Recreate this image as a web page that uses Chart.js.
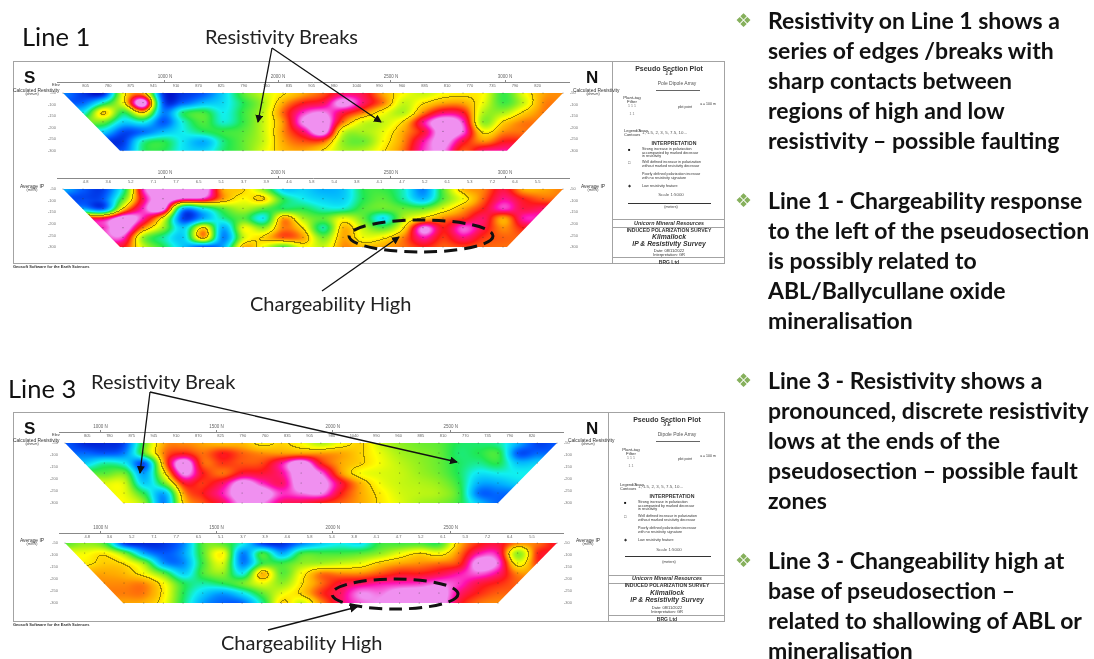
<!DOCTYPE html>
<html>
<head>
<meta charset="utf-8">
<title>Pseudo sections</title>
<script src="https://cdn.jsdelivr.net/npm/chart.js@4/dist/chart.umd.min.js"></script>
<style>
  html, body { margin: 0; padding: 0; background: #fff; width: 1094px; height: 659px; overflow: hidden; }
  body { position: relative; font-family: Lato, sans-serif; color: #111; }
  canvas { position: absolute; }
  .t { position: absolute; white-space: nowrap; line-height: 1; }
  .box { position: absolute; border: 1.5px solid #a3a3a3; box-sizing: border-box; }
  #map { position: absolute; left: 0; top: 0; width: 1094px; height: 659px; filter: blur(0.7px); }
  #notes { position: absolute; left: 0; top: 0; width: 1094px; height: 659px; pointer-events: none; }
</style>
</head>
<body>
<div id="map"></div>
<svg id="notes" width="1094" height="659" xmlns="http://www.w3.org/2000/svg">
  <defs>
    <marker id="head" markerWidth="8" markerHeight="8" refX="7" refY="4" orient="auto" markerUnits="userSpaceOnUse" viewBox="0 0 8 8">
      <path d="M0,0 L8,4 L0,8 Z" fill="#111"/>
    </marker>
  </defs>
  <g stroke="#111" stroke-width="1.3" fill="none">
    <path d="M272,48 L258,122" marker-end="url(#head)"/>
    <path d="M272,48 L381,122" marker-end="url(#head)"/>
    <path d="M322,291 L399,237" marker-end="url(#head)"/>
    <path d="M150,392 L140,473" marker-end="url(#head)"/>
    <path d="M150,392 L457,462" marker-end="url(#head)"/>
    <path d="M268,630 L357,607" marker-end="url(#head)"/>
  </g>
  <g stroke="#111" stroke-width="3" fill="none" stroke-dasharray="13 7">
    <ellipse cx="421" cy="236" rx="72" ry="16"/>
    <ellipse cx="395" cy="594" rx="63" ry="15"/>
  </g>
</svg>
<script>
// values, colour band scale 0 (dark blue) .. 10 (pink)
const line1Resistivity = [
  [1.5,0.5,0.3,6,7,0.5,0.5,1,2.5,4.5,5.5,6.3,7,7.6,8.5,8.3,7,6,5.5,6,6.2,6,4.2,5.8,7,7.2],
  [null,1.2,3.5,6,10,1,1.2,2.2,2.7,4,5.2,7,8,8.4,9.7,8.5,7.3,5.5,6.3,7,7,5.8,4.3,5.5,7.2,null],
  [null,3,6.5,4,6.5,1.5,3.8,4.3,3,4.2,5.4,7.5,9,9.4,8.3,7.3,6,5.3,7.3,8.5,8.1,5.3,5.2,6.5,7.3,null],
  [null,null,4.6,2.5,3,1,3.2,4.4,3.2,4.2,5.5,7.2,9.5,10,7.3,5.6,5.5,6.5,8.7,10,9,5,6.5,7.3,null,null],
  [null,null,2.5,0.8,1.3,2.2,3,3.8,4.2,4.5,5.5,7.2,8.5,9.8,5.6,5.2,5.8,7,8.2,9.9,9.2,6.2,7.2,7.4,null,null],
  [null,null,null,0.6,3.5,4,2.8,2,3.7,4.6,5.5,7,7.6,7.5,5,4.7,6,7.2,8.8,9.7,8.2,7.2,8,null,null,null],
  [null,null,null,1,3.8,4,2.8,2.5,3.8,4.6,5.7,6.8,7,6.3,5.2,5.3,6.3,7.4,9,9.4,7.6,8.6,8.8,null,null,null]
];
const line1Chargeability = [
  [2,1,0.7,3.5,9,10,9.8,10,7,6.5,5,2.5,2.5,2,2.3,4,4.2,3.3,1.5,4.5,6.8,7.3,8.3,7,7,7.3],
  [null,0.8,1,4.5,8.5,10,9,8.8,7,6,6.5,4,3,2.5,2.5,4,4.5,3.5,2.2,4.5,6,7.5,8.7,8,7.5,null],
  [null,2,1.2,6.5,9,9.6,2,3,4.5,5.3,4.5,4,4,3.3,3.3,4.4,4.6,4.6,4.6,5.8,7,8,9,8.3,8.5,null],
  [null,null,8.3,10,8.8,6,0.7,2,3.5,4.5,3,7,5.2,4.5,5.8,4.6,2.8,5.3,6.5,7.3,7.8,8.5,7,8.8,null,null],
  [null,null,9,10,7.2,5,2.5,6.5,2,5.8,5,7.3,6.3,3.5,6.8,5.4,4.5,6.3,9.5,8,9.2,8.3,7.2,8,null,null],
  [null,null,null,9,5,3.5,2.5,6.8,1.5,5.5,6.5,7.5,7,4.8,7,5.9,6.2,7.3,8.8,7.8,8.6,7.8,7.5,null,null,null],
  [null,null,null,8,5.5,4,2.3,0.7,2,6.8,5.8,4.3,6,5.5,7.2,6.8,7,7.4,7.9,7.5,7.7,7.5,7.4,null,null,null]
];
const line3Resistivity = [
  [1,0.3,0.3,0.8,4.5,7,7.2,7,6.8,6.8,6.2,6.5,6,5.3,6,6.5,5.5,5,4.7,4.5,3.9,3.8,3.5,2,0.7,1],
  [null,1.2,1,1.5,4.5,7.3,8,7.4,8,7.5,7.2,7.1,7.1,7.1,7,6.5,5.8,5.2,4.9,4.6,3.8,4,4.2,1,1.2,null],
  [null,2.5,3.5,3,1,7,10,7.5,7.8,7.6,7.7,8.8,10,8,7,6.5,5.9,5.4,5,4.6,3.9,3.6,4,2.3,2.5,null],
  [null,null,4.5,4.7,1.8,6,9.5,8,7.4,8.2,8.2,8.7,10,9.3,7.2,6,5.7,5.5,5.1,4.7,3.9,2.8,3,3,null,null],
  [null,null,5.7,5.6,2.5,4.5,8,7.8,8.5,9.8,9,8.5,10,9.8,8.3,6.9,5.9,5.5,5.3,5,4.1,2,2,2.5,null,null],
  [null,null,null,5.8,4,2,7,8,8.9,10,9.9,9,9.3,9.4,8,7,6.2,5.6,5.4,5.2,4.3,1.3,1.2,null,null,null],
  [null,null,null,6,5,1.5,6.5,7.6,8.4,9.6,9.4,8.5,8.3,7.9,7.5,7,6.3,5.7,5.2,4.9,4.2,2.3,1.1,null,null,null]
];
const line3Chargeability = [
  [4.5,5,4.3,0.7,0.3,0.5,1.5,4.5,4.5,3,0.7,0.4,1.5,2.5,3,2.8,4.2,4.3,4.4,4.2,6.8,7.9,8.2,7.2,7.4,8.2],
  [null,5.9,6.2,4.8,2,1,1.8,4.5,6,1.5,4.2,2,4.2,4.3,4.3,4.5,5,5.8,6.4,6,7.3,8.8,8.7,5,7.9,null],
  [null,6.2,6.6,6.3,5,1.8,1.6,4.3,5.6,1.5,4.2,4.2,5,5.2,5.5,5.8,6.6,7,7.2,7.4,7.8,9.8,9.2,6,7.8,null],
  [null,null,7,6.8,6,4.5,2.5,4.4,5,3,6.8,4.5,6,7.3,7.2,7.2,7.6,8,8,8.3,8.8,9.2,8.6,7.2,null,null],
  [null,null,7.2,7.2,7.2,6,4,3.5,4,4.7,5.8,5,6.3,7.4,8.2,8.5,8.8,8.9,9,9.3,9,8.3,7.9,7.5,null,null],
  [null,null,null,7.3,7.3,6.2,4,2.5,1.8,2.8,4.5,5.8,6.5,7.8,8.5,9.4,9.3,9.8,9.9,9.9,8.6,7.9,7.5,null,null,null],
  [null,null,null,7,6.9,6,3.8,1.8,1.1,1.2,3.5,6.5,5.5,7.2,8.5,9.2,9.5,10,10,9.9,8.2,7.4,7.2,null,null,null]
];

const depthLabels = ['-50', '-100', '-150', '-200', '-250', '-300'];
const depthRows = [0, 1.2, 2.4, 3.6, 4.8, 6];
const line1Stations = ['1000 N', '2000 N', '2500 N', '3000 N'];
const line1StationCols = [5.1, 10.75, 16.4, 22.1];
const line3Stations = ['1000 N', '1500 N', '2000 N', '2500 N'];
const line3StationCols = [1.8, 7.7, 13.6, 19.6];
const resistivityReadings = ['805','780','875','945','910','870','825','790','760','835','905','980','1040','990','960','885','810','770','735','790','820'];
const chargeReadings = ['4.8','3.6','5.2','7.1','7.7','6.5','5.1','3.7','3.9','4.6','5.8','5.4','3.8','4.1','4.7','5.2','6.1','5.3','7.2','6.4','5.5'];

// band colours for the fill
const bandStops = [
  [0, 16, 200], [0, 88, 255], [0, 176, 255], [16, 240, 240], [32, 232, 80], [144, 240, 32],
  [255, 255, 0], [255, 168, 0], [255, 24, 24], [255, 16, 176], [240, 144, 240]
];
const contourLevels = [6.4];

function bandColor(v) {
  let t = Math.max(0, Math.min(10, v));
  // pink band is wide in the picture
  if (t > 8.6) t = Math.min(10, 8.6 + (t - 8.6) * 1.7);
  const i = Math.min(9, Math.floor(t));
  const f = t - i;
  const a = bandStops[i], b = bandStops[i + 1];
  return [a[0] + (b[0] - a[0]) * f, a[1] + (b[1] - a[1]) * f, a[2] + (b[2] - a[2]) * f];
}

// cells outside the trapezoid take the nearest value of their row
function fillRow(row) {
  const out = row.slice();
  const first = out.findIndex(v => v !== null);
  let last = out.length - 1;
  while (out[last] === null) last--;
  for (let i = 0; i < first; i++) out[i] = out[first];
  for (let i = last + 1; i < out.length; i++) out[i] = out[last];
  return out;
}

function cubic(a, b, c, d, f) {
  return b + 0.5 * f * (c - a + f * (2 * a - 5 * b + 4 * c - d + f * (3 * (b - c) + d - a)));
}

function sampleGrid(g, col, row) {
  const rows = g.length, cols = g[0].length;
  const r0 = Math.max(0, Math.min(rows - 1, Math.floor(row)));
  const c0 = Math.max(0, Math.min(cols - 1, Math.floor(col)));
  const fr = Math.max(0, Math.min(1, row - r0));
  const fc = Math.max(0, Math.min(1, col - c0));
  const vals = [];
  for (let k = -1; k <= 2; k++) {
    const rr = g[Math.max(0, Math.min(rows - 1, r0 + k))];
    vals.push(cubic(rr[Math.max(0, c0 - 1)], rr[c0], rr[Math.min(cols - 1, c0 + 1)], rr[Math.min(cols - 1, c0 + 2)], fc));
  }
  return cubic(vals[0], vals[1], vals[2], vals[3], fr);
}

// paints the colour field under the station points, through the chart scales
const fieldPlugin = {
  id: 'field',
  beforeDatasetsDraw(chart, args, opts) {
    const xs = chart.scales.x, ys = chart.scales.y, ctx = chart.ctx;
    const grid = opts.grid.map(fillRow);
    const left = Math.floor(xs.getPixelForValue(0)), right = Math.ceil(xs.getPixelForValue(25));
    const top = Math.floor(ys.getPixelForValue(0)), bottom = Math.ceil(ys.getPixelForValue(6));
    const w = right - left, h = bottom - top;
    const vals = new Float32Array(w * h);
    for (let py = 0; py < h; py++) {
      const row = ys.getValueForPixel(top + py);
      for (let px = 0; px < w; px++) {
        vals[py * w + px] = sampleGrid(grid, xs.getValueForPixel(left + px), row);
      }
    }
    const off = document.createElement('canvas');
    off.width = w; off.height = h;
    const octx = off.getContext('2d');
    const img = octx.createImageData(w, h);
    for (let i = 0; i < vals.length; i++) {
      const c = bandColor(vals[i]);
      let dark = 1;
      for (const lv of contourLevels) {
        const nx = (i + 1) % w ? vals[i + 1] : vals[i];
        const ny = i + w < vals.length ? vals[i + w] : vals[i];
        if ((vals[i] - lv) * (nx - lv) < 0 || (vals[i] - lv) * (ny - lv) < 0) dark = 0.6;
      }
      img.data[i * 4] = c[0] * dark;
      img.data[i * 4 + 1] = c[1] * dark;
      img.data[i * 4 + 2] = c[2] * dark;
      img.data[i * 4 + 3] = 255;
    }
    octx.putImageData(img, 0, 0);
    ctx.save();
    ctx.beginPath();
    ctx.moveTo(xs.getPixelForValue(0), ys.getPixelForValue(0));
    ctx.lineTo(xs.getPixelForValue(25), ys.getPixelForValue(0));
    ctx.lineTo(xs.getPixelForValue(opts.rightFoot), ys.getPixelForValue(6));
    ctx.lineTo(xs.getPixelForValue(opts.leftFoot), ys.getPixelForValue(6));
    ctx.closePath();
    ctx.clip();
    ctx.drawImage(off, left, top);
    ctx.restore();
    // reading row under the station axis
    ctx.save();
    ctx.fillStyle = '#666';
    ctx.font = '4px "Liberation Sans"';
    ctx.textAlign = 'center';
    opts.readings.forEach((r, i) => {
      ctx.fillText(r, xs.getPixelForValue(1.13 + i * 1.13), chart.chartArea.top + 5);
    });
    ctx.restore();
  }
};

function addSection(cfg) {
  const areaLeft = Math.floor(cfg.x0 - 0.3 * cfg.sx);
  const areaRight = Math.ceil(cfg.x0 + 25.3 * cfg.sx);
  const sy = (cfg.bottom - cfg.top) / 6;
  const side = 18, head = 14;
  const canvas = document.createElement('canvas');
  const canvasLeft = areaLeft - side, canvasTop = cfg.axisY - head;
  canvas.style.left = canvasLeft + 'px';
  canvas.style.top = canvasTop + 'px';
  canvas.width = areaRight - areaLeft + side * 2;
  canvas.height = Math.ceil(cfg.bottom + 8 - canvasTop);
  document.getElementById('map').appendChild(canvas);

  const points = [];
  cfg.grid.forEach((row, r) => row.forEach((v, c) => { if (v !== null) points.push({ x: c, y: r }); }));
  const depthAxis = pos => ({
    position: pos, reverse: true, min: -1, max: 7,
    grid: { display: false, drawTicks: false }, border: { display: false },
    afterFit: s => { s.width = side; },
    afterBuildTicks: s => { s.ticks = depthRows.map(value => ({ value })); },
    ticks: {
      autoSkip: false, maxRotation: 0, padding: 1, color: '#777', font: { size: 4, family: 'Liberation Sans' },
      callback: (v, i) => depthLabels[i]
    }
  });

  const chart = new Chart(canvas, {
    type: 'scatter',
    data: { datasets: [{ data: points, pointRadius: 0.6, pointBackgroundColor: 'rgba(50,50,50,0.55)', pointBorderWidth: 0 }] },
    plugins: [fieldPlugin],
    options: {
      responsive: false, animation: false, devicePixelRatio: 1,
      layout: { padding: 0 },
      plugins: {
        legend: { display: false }, tooltip: { enabled: false },
        field: { grid: cfg.grid, leftFoot: cfg.leftFoot, rightFoot: cfg.rightFoot, readings: cfg.readings }
      },
      scales: {
        x: {
          type: 'linear', position: 'top', min: -0.3, max: 25.3,
          grid: { drawOnChartArea: false, tickLength: 2, color: '#888' },
          border: { color: '#888' },
          afterFit: s => { s.height = head; },
          afterBuildTicks: s => { s.ticks = cfg.stationCols.map(value => ({ value })); },
          ticks: {
            autoSkip: false, maxRotation: 0, padding: 1, color: '#666', font: { size: 4.5, family: 'Liberation Sans' },
            callback: (v, i) => cfg.stations[i]
          }
        },
        y: depthAxis('left'),
        yr: depthAxis('right')
      }
    }
  });

  // fit the scale ranges to the area the layout really gave, so rows land on the picture
  const a = chart.chartArea;
  const yMin = (canvasTop + a.top - cfg.top) / sy;
  const yMax = (canvasTop + a.bottom - cfg.top) / sy;
  chart.options.scales.y.min = yMin; chart.options.scales.y.max = yMax;
  chart.options.scales.yr.min = yMin; chart.options.scales.yr.max = yMax;
  chart.options.scales.x.min = (canvasLeft + a.left - cfg.x0) / cfg.sx;
  chart.options.scales.x.max = (canvasLeft + a.right - cfg.x0) / cfg.sx;
  chart.update();
}

addSection({ grid: line1Resistivity, x0: 63, sx: 20, axisY: 82, top: 93, bottom: 150.7, leftFoot: 2.85, rightFoot: 22.2, stations: line1Stations, stationCols: line1StationCols, readings: resistivityReadings });
addSection({ grid: line1Chargeability, x0: 63, sx: 20, axisY: 178, top: 189, bottom: 247, leftFoot: 2.85, rightFoot: 22.2, stations: line1Stations, stationCols: line1StationCols, readings: chargeReadings });
addSection({ grid: line3Resistivity, x0: 65, sx: 19.68, axisY: 432, top: 443, bottom: 503, leftFoot: 2.95, rightFoot: 22, stations: line3Stations, stationCols: line3StationCols, readings: resistivityReadings });
addSection({ grid: line3Chargeability, x0: 65, sx: 19.68, axisY: 533, top: 543, bottom: 603, leftFoot: 2.95, rightFoot: 22, stations: line3Stations, stationCols: line3StationCols, readings: chargeReadings });

// page furniture
const map = document.getElementById('map');
function text(parent, str, x, y, size, o) {
  o = o || {};
  const d = document.createElement('div');
  d.className = 't';
  d.textContent = str;
  d.style.fontSize = size + 'px';
  d.style.top = (y - size / 2) + 'px';
  d.style.fontFamily = o.font || '"Liberation Sans"';
  d.style.color = o.color || '#333';
  if (o.bold) d.style.fontWeight = 'bold';
  if (o.italic) d.style.fontStyle = 'italic';
  if (o.center) { d.style.left = x + 'px'; d.style.transform = 'translateX(-50%)'; } else d.style.left = x + 'px';
  parent.appendChild(d);
}
function rule(parent, x1, y1, x2, y2, color, weight) {
  const d = document.createElement('div');
  d.style.cssText = 'position:absolute;background:' + (color || '#a3a3a3');
  d.style.left = x1 + 'px'; d.style.top = y1 + 'px';
  d.style.width = Math.max(x2 - x1, weight || 1.2) + 'px';
  d.style.height = Math.max(y2 - y1, weight || 1.2) + 'px';
  parent.appendChild(d);
}

function frame(p) {
  const b = document.createElement('div');
  b.className = 'box';
  b.style.left = '13px'; b.style.top = p.top + 'px';
  b.style.width = (725 - 13) + 'px'; b.style.height = (p.bottom - p.top) + 'px';
  map.appendChild(b);
  rule(map, p.divider, p.top, p.divider, p.bottom);
  p.rules.forEach(y => rule(map, p.divider, y, 725, y));

  text(map, 'S', 24, p.top + 16, 17, { bold: true, color: '#111' });
  text(map, 'N', p.nx, p.top + 16, 17, { bold: true, color: '#111' });
  text(map, 'Geosoft Software for the Earth Sciences', 13, p.bottom + 2.5, 4, { bold: true });
  text(map, 'Elev', p.elevX, p.resY - 6, 4, {});
  text(map, 'Calculated Resistivity', 13, p.resY, 4.9, {});
  text(map, '(ohm-m)', 32, p.resY + 4, 3.5, { center: true });
  text(map, 'Calculated Resistivity', p.rightX, p.resY, 4.9, {});
  text(map, '(ohm-m)', p.rightX + 20, p.resY + 4, 3.5, { center: true });
  text(map, 'Average IP', 32, p.ipY, 4.9, { center: true });
  text(map, '(mV/V)', 32, p.ipY + 4, 3.5, { center: true });
  text(map, 'Average IP', p.rightX + 20, p.ipY, 4.9, { center: true });
  text(map, '(mV/V)', p.rightX + 20, p.ipY + 4, 3.5, { center: true });

  const y = p.ys;
  const cx = p.cx;
  text(map, 'Pseudo Section Plot', cx, y[0], 7, { bold: true, center: true });
  text(map, p.plot, cx, y[1], 4.6, { bold: true, italic: true, center: true });
  text(map, p.array, 677, y[2], 5, { center: true, color: '#555' });
  rule(map, 656, y[2] + 7, 700, y[2] + 7.6, '#666', 0.6);
  text(map, 'Plant-tag', p.tagX, y[3], 4.4, { center: true });
  text(map, 'Filter', p.tagX, y[3] + 4, 4.4, { center: true });
  text(map, '1 1 1', p.tagX, y[3] + 9, 3.5, { center: true, color: '#777' });
  text(map, '1  1', p.tagX, y[3] + 17, 3.5, { center: true, color: '#777' });
  text(map, 'plot point', 685, y[3] + 10, 3.5, { center: true });
  text(map, 'a = 100 m', 708, y[3] + 7, 3.5, { center: true });
  text(map, 'Legend/Array', p.legendX, y[4], 4, {});
  text(map, 'Contours', p.legendX, y[4] + 4, 4, {});
  text(map, '1, 1.5, 2, 3, 5, 7.5, 10...', p.legendX + 18, y[4] + 2, 4.4, { color: '#555' });
  text(map, 'INTERPRETATION', cx + 5, y[5], 5.2, { bold: true, center: true });
  const tx = p.itemX;
  text(map, '\u25A0', tx - 14, y[6], 4, { color: '#111' });
  text(map, 'Strong increase in polarization', tx, y[6], 3.7, {});
  text(map, 'accompanied by marked decrease', tx, y[6] + 3.4, 3.7, {});
  text(map, 'in resistivity', tx, y[6] + 6.8, 3.7, {});
  text(map, '\u25A1', tx - 14, y[7], 4, { color: '#333' });
  text(map, 'Well defined increase in polarization', tx, y[7], 3.7, {});
  text(map, 'without marked resistivity decrease', tx, y[7] + 3.4, 3.7, {});
  text(map, 'Poorly defined polarization increase', tx, y[8], 3.7, {});
  text(map, 'with no resistivity signature', tx, y[8] + 3.4, 3.7, {});
  text(map, '\u25C6', tx - 14, y[9], 3.5, { color: '#333' });
  text(map, 'Low resistivity feature', tx, y[9], 3.7, {});
  text(map, 'Scale 1:5000', cx + 2, y[10], 4.4, { center: true, color: '#555' });
  rule(map, p.barLeft, y[11], 711, y[11] + 0.8, '#333', 0.8);
  text(map, '(meters)', cx + 2, y[12], 3.6, { center: true });
  text(map, 'Unicorn Mineral Resources', cx, y[13], 5.4, { bold: true, italic: true, center: true });
  text(map, 'INDUCED POLARIZATION SURVEY', cx, y[14], 5.1, { bold: true, center: true });
  text(map, 'Kilmallock', cx, y[15], 6.8, { bold: true, italic: true, center: true });
  text(map, 'IP & Resistivity Survey', cx, y[16], 6.8, { bold: true, italic: true, center: true });
  text(map, 'Date: 08/11/2022', cx, y[17], 4, { center: true });
  text(map, 'Interpretation: GR', cx, y[17] + 3.6, 4, { center: true });
  text(map, 'BRG Ltd', cx, y[18], 5, { bold: true, center: true });
}

frame({
  top: 61, bottom: 264, divider: 612, rules: [219, 227, 257], nx: 586, plot: '1 E', array: 'Pole Dipole Array',
  resY: 91, ipY: 187, rightX: 573, elevX: 52, cx: 669, tagX: 632, legendX: 624, itemX: 642, barLeft: 628,
  ys: [68, 74, 83, 98, 131, 144, 150, 163, 175, 187, 195, 203, 208, 224, 231, 237, 244, 251, 262]
});
frame({
  top: 412, bottom: 622, divider: 608, rules: [575, 583, 615], nx: 586, plot: '3 E', array: 'Dipole Pole Array',
  resY: 441, ipY: 541, rightX: 568, elevX: 52, cx: 667, tagX: 631, legendX: 620, itemX: 638, barLeft: 625,
  ys: [419, 425, 434, 450, 485, 497, 503, 517, 529, 541, 550, 556, 563, 579, 586, 593, 600, 608, 619]
});

// slide text
const calloutFont = 'Lato';
text(document.body, 'Line 1', 22, 37, 25.5, { font: calloutFont, color: '#111' });
text(document.body, 'Resistivity Breaks', 205, 36, 20, { font: calloutFont, color: '#222' });
text(document.body, 'Chargeability High', 250, 303, 20, { font: calloutFont, color: '#222' });
text(document.body, 'Line 3', 8, 389, 25.5, { font: calloutFont, color: '#111' });
text(document.body, 'Resistivity Break', 91, 381, 20, { font: calloutFont, color: '#222' });
text(document.body, 'Chargeability High', 221, 642, 20, { font: calloutFont, color: '#222' });

const bullets = [
  { y: 20, lines: ['Resistivity on Line 1 shows a', 'series of edges /breaks with', 'sharp contacts between', 'regions of high and low', 'resistivity \u2013 possible faulting'] },
  { y: 200, lines: ['Line 1 - Chargeability response', 'to the left of the pseudosection', 'is possibly related to', 'ABL/Ballycullane oxide', 'mineralisation'] },
  { y: 380, lines: ['Line 3 - Resistivity shows a', 'pronounced, discrete resistivity', 'lows at the ends of the', 'pseudosection \u2013 possible fault', 'zones'] },
  { y: 560, lines: ['Line 3 - Changeability high at', 'base of pseudosection \u2013', 'related to shallowing of ABL or', 'mineralisation'] }
];
bullets.forEach(b => {
  text(document.body, '\u2756', 735, b.y, 19, { font: '"DejaVu Sans"', color: '#86b05c' });
  b.lines.forEach((l, i) => text(document.body, l, 768, b.y + i * 30, 23, { font: 'Lato', bold: true, color: '#111' }));
});
</script>
</body>
</html>
